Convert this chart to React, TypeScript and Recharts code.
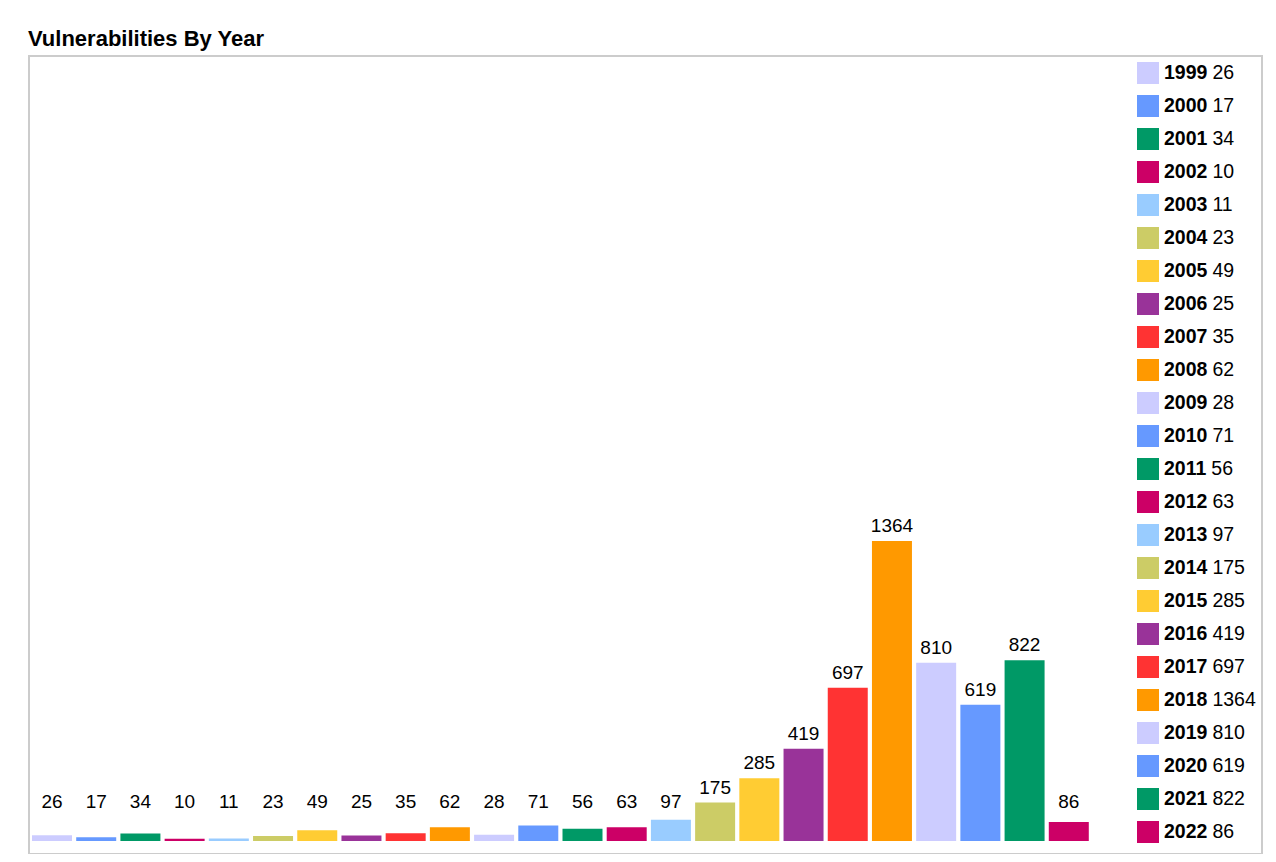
import React from 'react';
import { BarChart, Bar, XAxis, YAxis, Cell, LabelList } from 'recharts';

const years = [
  '1999', '2000', '2001', '2002', '2003', '2004', '2005', '2006',
  '2007', '2008', '2009', '2010', '2011', '2012', '2013', '2014',
  '2015', '2016', '2017', '2018', '2019', '2020', '2021', '2022',
];

const counts = [
  26, 17, 34, 10, 11, 23, 49, 25, 35, 62, 28, 71, 56, 63, 97, 175, 285,
  419, 697, 1364, 810, 619, 822, 86,
];

// the colour cycle repeats every ten years
const palette = [
  '#ccccff', '#6699ff', '#009966', '#cc0066', '#99ccff',
  '#cccc66', '#ffcc33', '#993399', '#ff3333', '#ff9900',
];

const data = years.map((year, i) => ({ year, count: counts[i] }));

const FONT = "Arial, 'Liberation Sans', Helvetica, sans-serif";

const ValueLabel = (props: any) => {
  const { x, y, width, height, value } = props;
  // short bars keep their label at a fixed height above the baseline
  const top = Math.min(y, y + height - 24);
  return (
    <text
      x={x + width / 2}
      y={top - 9}
      textAnchor="middle"
      fontSize={19}
      fontFamily={FONT}
      fill="#000"
    >
      {value}
    </text>
  );
};

const App: React.FC = () => {
  return (
    <div style={{ position: 'relative', width: 1260, height: 846, fontFamily: FONT }}>
      <div
        style={{
          position: 'absolute',
          left: 20,
          top: 19,
          fontSize: 22,
          lineHeight: '24px',
          fontWeight: 'bold',
          color: '#000',
        }}
      >
        Vulnerabilities By Year
      </div>

      <div
        style={{
          position: 'absolute',
          left: 20,
          top: 47,
          width: 1235,
          height: 800,
          border: '2px solid #cccccc',
          boxSizing: 'border-box',
        }}
      />

      <div style={{ position: 'absolute', left: 0, top: 0 }}>
        <BarChart
          width={1260}
          height={846}
          data={data}
          margin={{ top: 53, right: 177, left: 22, bottom: 13 }}
          barCategoryGap={2}
        >
          <XAxis dataKey="year" hide />
          <YAxis hide domain={[0, 3546]} />
          <Bar dataKey="count" isAnimationActive={false}>
            {data.map((d, i) => (
              <Cell key={d.year} fill={palette[i % palette.length]} />
            ))}
            <LabelList dataKey="count" content={<ValueLabel />} />
          </Bar>
        </BarChart>
      </div>

      <div style={{ position: 'absolute', left: 1129, top: 48 }}>
        {data.map((d, i) => (
          <div
            key={d.year}
            style={{ display: 'flex', alignItems: 'center', height: 33, fontSize: 19.5 }}
          >
            <span
              style={{
                display: 'inline-block',
                width: 22,
                height: 22,
                background: palette[i % palette.length],
                marginRight: 5,
              }}
            />
            <span style={{ fontWeight: 'bold', color: '#000' }}>{d.year}</span>
            <span style={{ color: '#000', marginLeft: 5 }}>{d.count}</span>
          </div>
        ))}
      </div>
    </div>
  );
};

export default App;
